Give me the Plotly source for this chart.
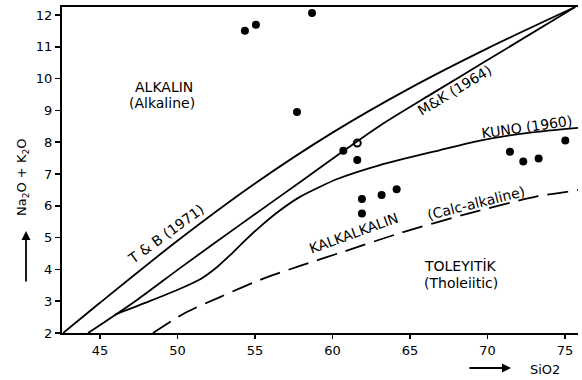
import plotly.graph_objects as go

# ---- data ----
tb_sio2 = [42.63, 45.0, 50.0, 55.0, 60.0, 65.0, 70.0, 75.66]
tb_alk = [2.0, 2.95, 4.90, 6.70, 8.30, 9.70, 10.95, 12.25]

mk_sio2 = [44.23, 47.39, 50.16, 54.03, 58.10, 60.61, 63.06, 66.5, 69.52, 75.66]
mk_alk = [2.0, 3.04, 4.04, 5.40, 6.81, 7.69, 8.52, 9.55, 10.44, 12.25]

kuno_sio2 = [45.97, 48.2, 50.2, 51.5, 52.5, 53.4, 54.3, 55.3, 56.6, 57.9, 59.2,
             60.35, 63.06, 66.94, 69.52, 72.74, 75.84]
kuno_alk = [2.58, 3.0, 3.40, 3.70, 4.05, 4.45, 4.88, 5.33, 5.85, 6.28, 6.60,
            6.85, 7.28, 7.75, 8.05, 8.30, 8.45]

calc_sio2 = [48.42, 50.48, 52.74, 55.32, 57.90, 60.48, 64.35, 68.87, 73.06, 75.97]
calc_alk = [2.0, 2.63, 3.13, 3.67, 4.11, 4.52, 5.14, 5.77, 6.28, 6.50]

sample_sio2 = [54.35, 55.06, 58.68, 57.71, 60.70, 61.60, 61.90, 61.90, 63.17,
               64.14, 71.45, 72.31, 73.30, 75.02]
sample_alk = [11.50, 11.69, 12.06, 8.95, 7.73, 7.44, 6.21, 5.76, 6.34,
              6.52, 7.70, 7.39, 7.49, 8.05]
open_sio2 = [61.60]
open_alk = [7.97]

x_ticks = [45, 50, 55, 60, 65, 70, 75]
y_ticks = [2, 3, 4, 5, 6, 7, 8, 9, 10, 11, 12]

FONT = "DejaVu Sans"

fig = go.Figure()
line_style = dict(color="black", width=1.8, shape="spline", smoothing=0.8)
fig.add_trace(go.Scatter(x=tb_sio2, y=tb_alk, mode="lines", line=line_style))
fig.add_trace(go.Scatter(x=mk_sio2, y=mk_alk, mode="lines", line=line_style))
fig.add_trace(go.Scatter(x=kuno_sio2, y=kuno_alk, mode="lines",
                         line=dict(color="black", width=1.8, shape="spline",
                                   smoothing=0.7)))
fig.add_trace(go.Scatter(x=calc_sio2, y=calc_alk, mode="lines",
                         line=dict(color="black", width=1.8, dash="21px,9px",
                                   shape="spline", smoothing=0.8)))
fig.add_trace(go.Scatter(x=sample_sio2, y=sample_alk, mode="markers",
                         marker=dict(color="black", size=8), cliponaxis=False))
fig.add_trace(go.Scatter(x=open_sio2, y=open_alk, mode="markers",
                         marker=dict(symbol="circle-open", color="black", size=7,
                                     line=dict(width=2, color="black"))))

W, H = 582, 380
L, R, T, B = 62, 4, 7, 47
pw, ph = W - L - R, H - T - B


def px(xp):
    return (xp - L) / pw


def py(yp):
    return (H - B - yp) / ph


ann = []
txt = dict(family=FONT, size=14, color="black")
for text, x, y, ang in [
    ("ALKALIN", 49.13, 9.72, 0),
    ("(Alkaline)", 49.0, 9.22, 0),
    ("TOLEYITİK", 68.23, 4.11, 0),
    ("(Tholeiitic)", 68.29, 3.56, 0),
    ("KALKALKALIN", 61.39, 5.14, -20),
    ("(Calc-alkaline)", 69.26, 6.09, -14),
    ("T & B (1971)", 49.26, 5.11, -36),
    ("M&K (1964)", 67.9, 9.64, -31),
    ("KUNO (1960)", 72.55, 8.48, -8),
]:
    ann.append(dict(x=x, y=y, xref="x", yref="y", text=text, showarrow=False,
                    textangle=ang, font=txt, xanchor="center", yanchor="middle"))

ann.append(dict(x=px(22), y=py(178), xref="paper", yref="paper",
                text="Na<sub>2</sub>O + K<sub>2</sub>O", textangle=-90,
                xanchor="center", yanchor="middle",
                showarrow=False, font=dict(family=FONT, size=13, color="black")))
ann.append(dict(x=px(26), y=py(231), xref="paper", yref="paper", text="",
                showarrow=True, ax=0, ay=52, arrowhead=2, arrowsize=1,
                arrowwidth=1.8, arrowcolor="black"))
ann.append(dict(x=px(511), y=py(368), xref="paper", yref="paper", text="",
                showarrow=True, ax=-43, ay=0, arrowhead=2, arrowsize=1,
                arrowwidth=1.8, arrowcolor="black"))
ann.append(dict(x=px(545), y=py(369), xref="paper", yref="paper", text="SiO2",
                xanchor="center", yanchor="middle",
                showarrow=False, font=dict(family=FONT, size=13, color="black")))

fig.update_layout(
    width=W, height=H,
    margin=dict(l=L, r=R, t=T, b=B),
    paper_bgcolor="white", plot_bgcolor="white",
    showlegend=False,
    hovermode=False,
    annotations=ann,
    xaxis=dict(range=[42.55, 75.84], tickvals=x_ticks, ticks="outside",
               ticklen=4, tickwidth=1.5, tickcolor="black",
               showline=True, linewidth=2, linecolor="black", mirror=True,
               showgrid=False, zeroline=False,
               tickfont=dict(family=FONT, size=13, color="black")),
    yaxis=dict(range=[2, 12.25], tickvals=y_ticks, ticks="outside",
               ticklen=5, tickwidth=1.5, tickcolor="black",
               showline=True, linewidth=2, linecolor="black", mirror=False,
               showgrid=False, zeroline=False,
               tickfont=dict(family=FONT, size=13, color="black")),
)

fig.write_html("out.html",
               config={"displayModeBar": False, "staticPlot": True},
               post_script="document.body.style.margin='0';")
